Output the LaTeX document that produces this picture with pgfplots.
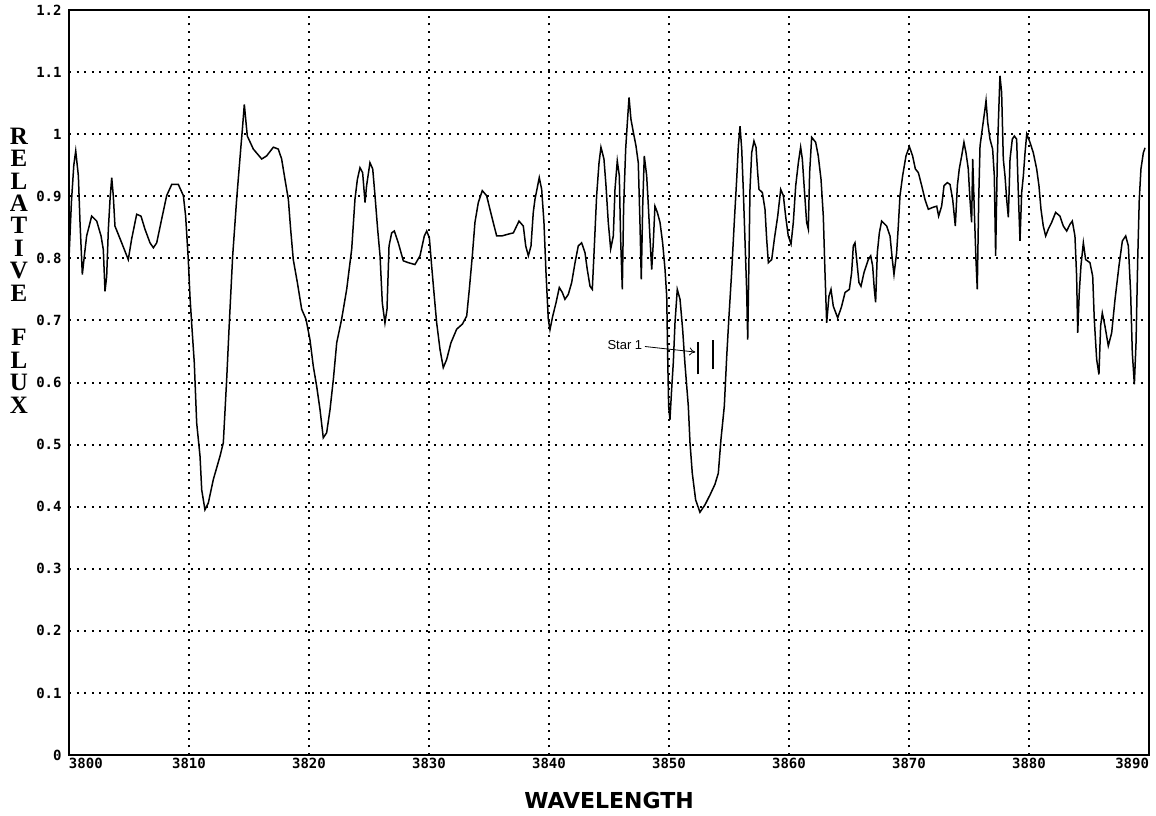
\documentclass[border=0pt]{standalone}
\usepackage{pgfplots}
\pgfplotsset{compat=1.18}
\usepackage{fontspec}
\setmonofont{DejaVu Sans Mono}
\newfontfamily\xlabfont{DejaVu Sans}
\newfontfamily\ylabfont{Liberation Serif}
\newfontfamily\arialfont{Liberation Sans}
\usetikzlibrary{arrows.meta}
\begin{document}
\begin{tikzpicture}
\useasboundingbox (-34.5pt,-30pt) rectangle (543.5pt,377.5pt);
\begin{axis}[
  scale only axis, width=540pt, height=372.5pt,
  at={(0pt,0pt)}, anchor=south west,
  xmin=3800, xmax=3890, ymin=0, ymax=1.2,
  xtick={3800,3810,3820,3830,3840,3850,3860,3870,3880,3890},
  xticklabels={\rlap{3800},3810,3820,3830,3840,3850,3860,3870,3880,\llap{3890}},
  ytick={0,0.1,0.2,0.3,0.4,0.5,0.6,0.7,0.8,0.9,1,1.1,1.2},
  yticklabels={0,0.1,0.2,0.3,0.4,0.5,0.6,0.7,0.8,0.9,1,1.1,1.2},
  major tick length=0pt,
  tick style={draw=none},
  grid=major,
  major grid style={black, line width=1pt, dash pattern=on 1pt off 2.8pt},
  axis line style={black, line width=1.3pt},
  axis on top=false,
  /pgf/number format/assume math mode=true,
  xticklabel style={font=\ttfamily\bfseries\fontsize{7}{8}\selectfont, inner sep=0pt, yshift=-1.5pt},
  yticklabel style={font=\ttfamily\bfseries\fontsize{7}{8}\selectfont, inner sep=0pt, xshift=-3.5pt},
  xlabel={WAVELENGTH},
  every axis x label/.style={at={(axis description cs:0.5,0)}, anchor=center, yshift=-22.5pt, font=\xlabfont\bfseries\fontsize{11}{12}\selectfont},
  ylabel={R\\E\\L\\A\\T\\I\\V\\E\\[11.2pt]F\\L\\U\\X},
  every axis y label/.style={at={(axis description cs:0,0)}, anchor=center, xshift=-25pt, yshift=242.25pt, align=center, font=\ylabfont\bfseries\fontsize{12.5}{11.2}\selectfont},
]
\addplot[black, line width=0.75pt] coordinates {
(3800.00,0.80) (3800.20,0.89) (3800.40,0.95) (3800.56,0.973) (3800.78,0.933) (3800.92,0.857)
(3801.11,0.774) (3801.28,0.804) (3801.47,0.836) (3801.89,0.868) (3802.31,0.860) (3802.67,0.836)
(3802.86,0.814) (3803.00,0.747) (3803.14,0.771) (3803.28,0.847) (3803.42,0.895) (3803.56,0.930)
(3803.69,0.901) (3803.83,0.852) (3804.39,0.825) (3804.94,0.798) (3805.22,0.831) (3805.64,0.871)
(3806.00,0.868) (3806.33,0.847) (3806.75,0.825) (3807.03,0.817) (3807.31,0.825) (3807.72,0.863)
(3808.14,0.901) (3808.56,0.919) (3809.11,0.919) (3809.53,0.901) (3809.72,0.868) (3809.94,0.798)
(3810.08,0.739) (3810.22,0.696) (3810.44,0.632) (3810.64,0.535) (3810.92,0.481) (3811.06,0.427)
(3811.33,0.395) (3811.61,0.406) (3812.03,0.444) (3812.58,0.481) (3812.86,0.503) (3813.14,0.605)
(3813.36,0.696) (3813.64,0.804) (3813.97,0.895) (3814.31,0.976) (3814.47,1.013) (3814.61,1.048)
(3814.75,1.019) (3814.86,0.997) (3815.36,0.976) (3816.06,0.960) (3816.47,0.965) (3817.03,0.979)
(3817.44,0.976) (3817.72,0.960) (3818.00,0.927) (3818.28,0.895) (3818.47,0.847) (3818.69,0.798)
(3819.03,0.761) (3819.39,0.718) (3819.75,0.702) (3820.08,0.669) (3820.36,0.626) (3820.64,0.594)
(3820.92,0.556) (3821.19,0.511) (3821.47,0.519) (3821.75,0.556) (3822.03,0.605) (3822.31,0.664)
(3822.72,0.702) (3823.14,0.750) (3823.56,0.815) (3823.83,0.895) (3824.03,0.927) (3824.25,0.946)
(3824.47,0.938) (3824.67,0.890) (3824.80,0.917) (3825.08,0.954) (3825.31,0.944) (3825.50,0.901)
(3825.72,0.847) (3825.92,0.804) (3826.11,0.728) (3826.33,0.696) (3826.50,0.718) (3826.67,0.820)
(3826.89,0.841) (3827.11,0.844) (3827.44,0.825) (3827.86,0.796) (3828.28,0.793) (3828.83,0.790)
(3829.25,0.804) (3829.61,0.836) (3829.81,0.844) (3830.03,0.833) (3830.22,0.788) (3830.44,0.739)
(3830.64,0.696) (3830.92,0.653) (3831.19,0.624) (3831.47,0.637) (3831.83,0.664) (3832.31,0.686)
(3832.78,0.694) (3833.14,0.707) (3833.36,0.750) (3833.61,0.804) (3833.83,0.858) (3834.11,0.890)
(3834.44,0.909) (3834.80,0.901) (3835.22,0.868) (3835.64,0.836) (3836.06,0.836) (3836.61,0.839)
(3837.03,0.841) (3837.50,0.860) (3837.86,0.852) (3838.06,0.820) (3838.28,0.804) (3838.50,0.820)
(3838.69,0.874) (3838.83,0.895) (3839.19,0.930) (3839.39,0.911) (3839.58,0.858) (3839.75,0.777)
(3839.94,0.702) (3840.08,0.685) (3840.31,0.707) (3840.58,0.728) (3840.86,0.753) (3841.11,0.745)
(3841.33,0.734) (3841.61,0.742) (3841.89,0.761) (3842.17,0.793) (3842.44,0.820) (3842.72,0.825)
(3843.00,0.809) (3843.19,0.782) (3843.42,0.755) (3843.61,0.750) (3843.78,0.820) (3843.97,0.901)
(3844.17,0.954) (3844.33,0.979) (3844.58,0.960) (3844.75,0.917) (3844.94,0.858) (3845.14,0.815)
(3845.36,0.836) (3845.50,0.911) (3845.69,0.957) (3845.86,0.933) (3845.97,0.831) (3846.11,0.750)
(3846.22,0.884) (3846.39,0.976) (3846.53,1.019) (3846.67,1.059) (3846.83,1.024) (3847.03,1.003)
(3847.25,0.981) (3847.44,0.954) (3847.58,0.858) (3847.69,0.766) (3847.81,0.884) (3847.94,0.965)
(3848.14,0.933) (3848.28,0.884) (3848.42,0.831) (3848.56,0.782) (3848.69,0.825) (3848.83,0.884)
(3849.03,0.874) (3849.25,0.858) (3849.47,0.825) (3849.67,0.782) (3849.81,0.739) (3849.89,0.642)
(3849.97,0.562) (3850.08,0.540) (3850.22,0.589) (3850.36,0.632) (3850.50,0.696) (3850.69,0.750)
(3850.92,0.734) (3851.14,0.685) (3851.33,0.630) (3851.61,0.562) (3851.75,0.503) (3851.94,0.454)
(3852.22,0.411) (3852.58,0.391) (3853.00,0.403) (3853.42,0.419) (3853.83,0.436) (3854.11,0.454)
(3854.33,0.508) (3854.61,0.562) (3854.81,0.642) (3855.00,0.707) (3855.22,0.777) (3855.44,0.858)
(3855.64,0.927) (3855.78,0.981) (3855.92,1.013) (3856.06,0.976) (3856.19,0.911) (3856.33,0.831)
(3856.47,0.750) (3856.56,0.669) (3856.67,0.804) (3856.75,0.911) (3856.89,0.970) (3857.08,0.989)
(3857.25,0.979) (3857.39,0.938) (3857.50,0.911) (3857.78,0.906) (3858.00,0.879) (3858.14,0.831)
(3858.28,0.793) (3858.56,0.798) (3858.78,0.831) (3859.06,0.868) (3859.31,0.911) (3859.53,0.901)
(3859.72,0.868) (3859.94,0.836) (3860.17,0.823) (3860.36,0.858) (3860.56,0.917) (3860.78,0.954)
(3860.97,0.979) (3861.11,0.960) (3861.28,0.911) (3861.47,0.858) (3861.61,0.847) (3861.72,0.938)
(3861.89,0.995) (3862.22,0.987) (3862.44,0.965) (3862.67,0.927) (3862.86,0.868) (3863.00,0.777)
(3863.14,0.696) (3863.33,0.739) (3863.50,0.750) (3863.69,0.723) (3864.06,0.704) (3864.39,0.723)
(3864.67,0.745) (3865.03,0.750) (3865.22,0.777) (3865.36,0.820) (3865.50,0.825) (3865.64,0.798)
(3865.83,0.761) (3866.00,0.755) (3866.25,0.777) (3866.61,0.798) (3866.81,0.804) (3866.97,0.788)
(3867.11,0.750) (3867.22,0.729) (3867.36,0.809) (3867.53,0.841) (3867.72,0.860) (3868.14,0.852)
(3868.42,0.836) (3868.61,0.798) (3868.75,0.774) (3868.97,0.809) (3869.11,0.852) (3869.25,0.901)
(3869.47,0.933) (3869.75,0.965) (3870.03,0.980) (3870.30,0.965) (3870.53,0.944) (3870.78,0.938)
(3871.06,0.917) (3871.33,0.895) (3871.61,0.879) (3871.97,0.882) (3872.31,0.884) (3872.47,0.868)
(3872.72,0.884) (3872.92,0.917) (3873.19,0.922) (3873.42,0.919) (3873.64,0.895) (3873.86,0.852)
(3874.03,0.917) (3874.19,0.944) (3874.39,0.965) (3874.58,0.987) (3874.75,0.970) (3874.94,0.944)
(3875.08,0.895) (3875.22,0.858) (3875.31,0.960) (3875.44,0.879) (3875.58,0.798) (3875.69,0.750)
(3875.81,0.895) (3875.92,0.981) (3876.14,1.013) (3876.33,1.040) (3876.42,1.054) (3876.56,1.019)
(3876.75,0.992) (3876.97,0.976) (3877.11,0.933) (3877.22,0.804) (3877.36,0.960) (3877.45,1.020)
(3877.58,1.094) (3877.72,1.067) (3877.86,0.960) (3878.00,0.933) (3878.14,0.895) (3878.28,0.866)
(3878.42,0.960) (3878.61,0.992) (3878.78,0.997) (3878.97,0.992) (3879.11,0.906) (3879.25,0.828)
(3879.39,0.906) (3879.53,0.933) (3879.67,0.970) (3879.81,1.000) (3880.08,0.987) (3880.36,0.970)
(3880.64,0.944) (3880.83,0.917) (3881.00,0.879) (3881.19,0.852) (3881.39,0.836) (3881.61,0.847)
(3881.89,0.858) (3882.22,0.874) (3882.58,0.868) (3882.86,0.852) (3883.14,0.844) (3883.42,0.855)
(3883.61,0.860) (3883.83,0.836) (3883.97,0.771) (3884.06,0.680) (3884.19,0.745) (3884.33,0.788)
(3884.53,0.825) (3884.72,0.798) (3885.08,0.793) (3885.31,0.771) (3885.44,0.702) (3885.64,0.637)
(3885.83,0.613) (3885.97,0.691) (3886.11,0.712) (3886.33,0.691) (3886.61,0.659) (3886.89,0.680)
(3887.17,0.734) (3887.50,0.788) (3887.78,0.828) (3888.06,0.836) (3888.28,0.820) (3888.47,0.745)
(3888.61,0.648) (3888.78,0.597) (3888.92,0.664) (3889.06,0.798) (3889.19,0.895) (3889.33,0.944)
(3889.53,0.970) (3889.67,0.978)
};
\addplot[black, line width=1pt] coordinates {(3852.42,0.613) (3852.42,0.666)};
\addplot[black, line width=1pt] coordinates {(3853.67,0.621) (3853.67,0.669)};
\draw[line width=0.4pt, -{To[length=3pt,width=4pt]}] (axis cs:3848.0,0.658) -- (axis cs:3852.2,0.649);
\node[font=\arialfont\fontsize{6.5}{7}\selectfont, anchor=east, inner sep=0pt] at (axis cs:3847.8,0.660) {Star 1};
\end{axis}
\end{tikzpicture}
\end{document}
